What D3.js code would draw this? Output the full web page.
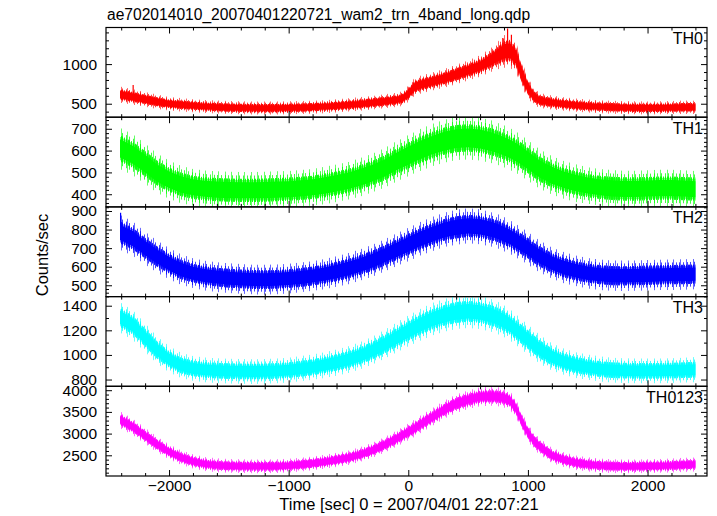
<!DOCTYPE html>
<html><head><meta charset="utf-8">
<script src="https://cdn.jsdelivr.net/npm/d3@7/dist/d3.min.js"></script>
<style>
body{margin:0;background:#fff}
svg{display:block}
text{font-family:"Liberation Sans",Arial,Helvetica,sans-serif;fill:#000}
</style>
</head><body>
<svg id="chart" width="717" height="516"></svg>
<script>
const titleText = "ae702014010_20070401220721_wam2_trn_4band_long.qdp";
const xLabel = "Time [sec] 0 = 2007/04/01 22:07:21";
const yLabel = "Counts/sec";
const bandNames = ["TH0", "TH1", "TH2", "TH3", "TH0123"];
const bandColors = ["#ff0000", "#00ff00", "#0000ff", "#00ffff", "#ff00ff"];

const time = [-2410,-2300,-2200,-2100,-2000,-1900,-1800,-1700,-1600,-1500,-1400,-1300,-1200,-1100,-1000,-900,-800,-700,-600,-500,-400,-300,-200,-100,-50,0,50,100,200,300,400,500,600,700,750,800,850,900,950,1000,1050,1100,1200,1300,1400,1500,1600,1700,1800,1900,2000,2100,2200,2300,2400];

const th0Mid = [615,585,555,525,500,487,475,465,458,452,448,446,445,446,448,451,456,463,473,485,498,513,530,548,565,625,710,740,780,820,870,920,975,1060,1110,1160,1170,1090,870,700,590,540,515,497,482,470,462,456,451,448,447,448,451,456,455];
const th0Half = [50,48,46,44,42,41,40,40,40,40,40,40,40,40,40,40,40,40,41,41,42,42,43,44,45,50,55,55,55,58,60,62,66,75,85,100,105,95,80,65,52,46,43,42,41,40,40,40,40,40,40,40,40,41,41];

const th1Mid = [610,580,540,497,467,445,432,425,421,419,418,418,419,421,423,427,432,440,450,462,478,497,520,550,563,577,590,603,625,643,655,658,653,640,630,620,607,593,575,555,535,515,487,466,451,440,432,427,424,424,426,428,428,426,423];
const th1Half = [46,46,45,44,43,42,41,41,41,41,41,41,41,41,41,41,41,42,42,42,43,43,44,45,45,46,46,47,47,48,48,48,48,48,47,47,47,46,46,45,45,44,43,42,42,41,41,41,41,41,41,41,41,41,41];

const th2Mid = [785,750,700,655,617,585,565,552,544,538,534,531,530,532,536,542,550,560,574,590,610,632,660,690,705,720,735,750,775,798,812,820,815,800,790,775,760,740,720,700,675,655,620,595,578,565,557,552,551,552,554,556,557,558,560];
const th2Half = [46,45,43,42,41,40,39,39,39,39,39,39,39,39,39,39,39,40,40,41,41,42,42,43,43,44,44,44,45,45,46,46,46,45,45,45,44,44,43,43,42,42,41,41,40,40,40,40,40,40,40,40,40,40,40];

const th3Mid = [1305,1240,1140,1040,965,915,890,878,872,868,866,865,866,870,877,888,900,918,938,962,995,1035,1085,1140,1168,1195,1220,1245,1290,1322,1345,1355,1345,1320,1300,1275,1245,1205,1165,1125,1085,1045,985,945,918,900,886,877,872,870,870,871,873,876,880];
const th3Half = [60,59,57,54,52,50,49,49,49,49,49,49,49,49,49,50,50,51,52,53,54,55,57,59,60,61,62,63,64,65,66,66,66,65,64,63,62,61,60,59,58,57,54,52,51,50,50,49,49,49,49,49,49,49,50];

const th0123Mid = [3320,3150,2950,2750,2580,2450,2360,2300,2270,2255,2250,2245,2245,2250,2260,2285,2315,2350,2395,2445,2520,2615,2740,2880,2960,3040,3120,3210,3380,3550,3690,3780,3850,3860,3850,3820,3760,3580,3280,3020,2830,2700,2500,2400,2330,2290,2265,2250,2245,2245,2250,2255,2265,2280,2290];
const th0123Half = [95,92,90,87,84,82,80,78,78,77,77,77,77,77,77,78,78,79,80,81,83,85,87,90,92,94,96,98,100,102,104,105,106,106,106,106,105,103,100,97,93,90,86,83,81,80,79,78,78,78,78,78,78,79,79];

const th0Spikes = [[-2300,735],[790,1330],[830,1450],[862,1370]];
const th2Spikes = [[-2405,890]];

const yDomains = [[330,1462],[342,753],[439,922],[745,1474],[2023,4090]];
const yMajorStep = [500,100,100,200,500];
const yMinorStep = [100,20,20,100,100];
const xDomain = [-2527,2497];
const xMajorStep = 1000;
const xMinorStep = 200;

const mids = [th0Mid, th1Mid, th2Mid, th3Mid, th0123Mid];
const halves = [th0Half, th1Half, th2Half, th3Half, th0123Half];
const spikes = [th0Spikes, [], th2Spikes, [], []];

(function draw() {
const pLeft = 106, pRight = 707, pTop = 27.5, pBottom = 476;
const nP = 5, ph = (pBottom - pTop) / nP;
const svg = d3.select("#chart");
const defs = svg.append("defs");
const fontFam = "Liberation Sans, Arial, sans-serif";

// hairy-edge textures (styling only): vertical hairlines at fixed offsets
const texture = [
  {k: 1.3, w: 7, offs: [0, 2, 3, 5], op: 0.9},
  {k: 1.65, w: 11, offs: [1, 5, 8], op: 0.75},
  {k: 2.05, w: 13, offs: [4, 10], op: 0.6}
];
bandColors.forEach((c, i) => {
  texture.forEach((tx, j) => {
    const p = defs.append("pattern").attr("id", `pt${i}_${j}`)
      .attr("patternUnits", "userSpaceOnUse").attr("width", tx.w).attr("height", 20);
    tx.offs.forEach(o => p.append("rect").attr("x", o).attr("y", 0).attr("width", 1).attr("height", 20)
      .attr("fill", c).attr("opacity", tx.op));
  });
});

const x = d3.scaleLinear().domain(xDomain).range([pLeft, pRight]);
function stepTicks(d, step) {
  const out = [];
  for (let v = Math.ceil(d[0] / step) * step; v <= d[1] + 1e-9; v += step) out.push(v);
  return out;
}
const xMajor = stepTicks(xDomain, xMajorStep);
const xMinor = stepTicks(xDomain, xMinorStep).filter(v => v % xMajorStep !== 0);
const numFmt = d => (d < 0 ? "\u2212" : "") + d3.format("d")(Math.abs(d));

svg.append("text").attr("x", 107).attr("y", 20).attr("font-size", 15.6).text(titleText);

for (let i = 0; i < nP; i++) {
  const y0 = pTop + i * ph, y1 = y0 + ph;
  const y = d3.scaleLinear().domain(yDomains[i]).range([y1, y0]);
  const g = svg.append("g");
  const clipId = "clip" + i;
  defs.append("clipPath").attr("id", clipId).append("rect")
    .attr("x", pLeft).attr("y", y0).attr("width", pRight - pLeft).attr("height", ph);

  const rows = time.map((t, k) => ({t, m: mids[i][k], h: halves[i][k]}));
  const dg = g.append("g").attr("clip-path", `url(#${clipId})`);
  texture.slice().reverse().forEach((tx, jr) => {
    const j = texture.length - 1 - jr;
    const a = d3.area().x(d => x(d.t)).y0(d => y(d.m - tx.k * d.h)).y1(d => y(d.m + tx.k * d.h));
    dg.append("path").attr("d", a(rows)).attr("fill", `url(#pt${i}_${j})`);
  });
  const edge = d3.area().x(d => x(d.t)).y0(d => y(d.m - 1.15 * d.h)).y1(d => y(d.m + 1.15 * d.h));
  dg.append("path").attr("d", edge(rows)).attr("fill", bandColors[i]).attr("opacity", 0.55);
  const core = d3.area().x(d => x(d.t)).y0(d => y(d.m - 0.9 * d.h)).y1(d => y(d.m + 0.9 * d.h));
  dg.append("path").attr("d", core(rows)).attr("fill", bandColors[i]);
  const midAt = d3.scaleLinear().domain(time).range(mids[i]);
  dg.selectAll("line.sp").data(spikes[i]).join("line")
    .attr("x1", d => x(d[0])).attr("x2", d => x(d[0]))
    .attr("y1", d => y(midAt(d[0]))).attr("y2", d => y(d[1]))
    .attr("stroke", bandColors[i]).attr("stroke-width", 1.2);

  const yMaj = stepTicks(yDomains[i], yMajorStep[i]);
  const yMin = stepTicks(yDomains[i], yMinorStep[i]).filter(v => Math.abs(v % yMajorStep[i]) > 1e-9);
  const axL = g.append("g").attr("transform", `translate(${pLeft},0)`)
    .call(d3.axisLeft(y).tickValues(yMaj).tickSize(-6).tickPadding(9).tickSizeOuter(0).tickFormat(numFmt));
  axL.select(".domain").remove();
  axL.selectAll("text").attr("font-size", 15.5).attr("font-family", fontFam);
  const axLm = g.append("g").attr("transform", `translate(${pLeft},0)`)
    .call(d3.axisLeft(y).tickValues(yMin).tickSize(-3).tickFormat("").tickSizeOuter(0));
  axLm.select(".domain").remove();
  const axR = g.append("g").attr("transform", `translate(${pRight},0)`)
    .call(d3.axisRight(y).tickValues(yMaj).tickSize(-6).tickFormat("").tickSizeOuter(0));
  axR.select(".domain").remove();
  const axRm = g.append("g").attr("transform", `translate(${pRight},0)`)
    .call(d3.axisRight(y).tickValues(yMin).tickSize(-3).tickFormat("").tickSizeOuter(0));
  axRm.select(".domain").remove();

  const axT = g.append("g").attr("transform", `translate(0,${y0})`)
    .call(d3.axisTop(x).tickValues(xMajor).tickSize(-6).tickFormat("").tickSizeOuter(0));
  axT.select(".domain").remove();
  const axTm = g.append("g").attr("transform", `translate(0,${y0})`)
    .call(d3.axisTop(x).tickValues(xMinor).tickSize(-3).tickFormat("").tickSizeOuter(0));
  axTm.select(".domain").remove();
  const axB = g.append("g").attr("transform", `translate(0,${y1})`)
    .call(d3.axisBottom(x).tickValues(xMajor).tickSize(-6).tickPadding(4).tickSizeOuter(0)
      .tickFormat(i === nP - 1 ? numFmt : ""));
  axB.select(".domain").remove();
  axB.selectAll("text").attr("font-size", 15.5).attr("font-family", fontFam);
  const axBm = g.append("g").attr("transform", `translate(0,${y1})`)
    .call(d3.axisBottom(x).tickValues(xMinor).tickSize(-3).tickFormat("").tickSizeOuter(0));
  axBm.select(".domain").remove();
  g.selectAll(".tick line").attr("stroke", "#000");

  g.append("rect").attr("x", pLeft).attr("y", y0).attr("width", pRight - pLeft).attr("height", ph)
    .attr("fill", "none").attr("stroke", "#000").attr("stroke-width", 1.2);

  g.append("text").attr("x", 703).attr("y", y0 + 16.5).attr("text-anchor", "end")
    .attr("font-size", 16).text(bandNames[i]);
}

svg.append("text").attr("x", 409).attr("y", 510).attr("text-anchor", "middle")
  .attr("font-size", 16.5).text(xLabel);
svg.append("text").attr("transform", "translate(48,255) rotate(-90)").attr("text-anchor", "middle")
  .attr("font-size", 16.5).text(yLabel);
})();
</script>
</body></html>
